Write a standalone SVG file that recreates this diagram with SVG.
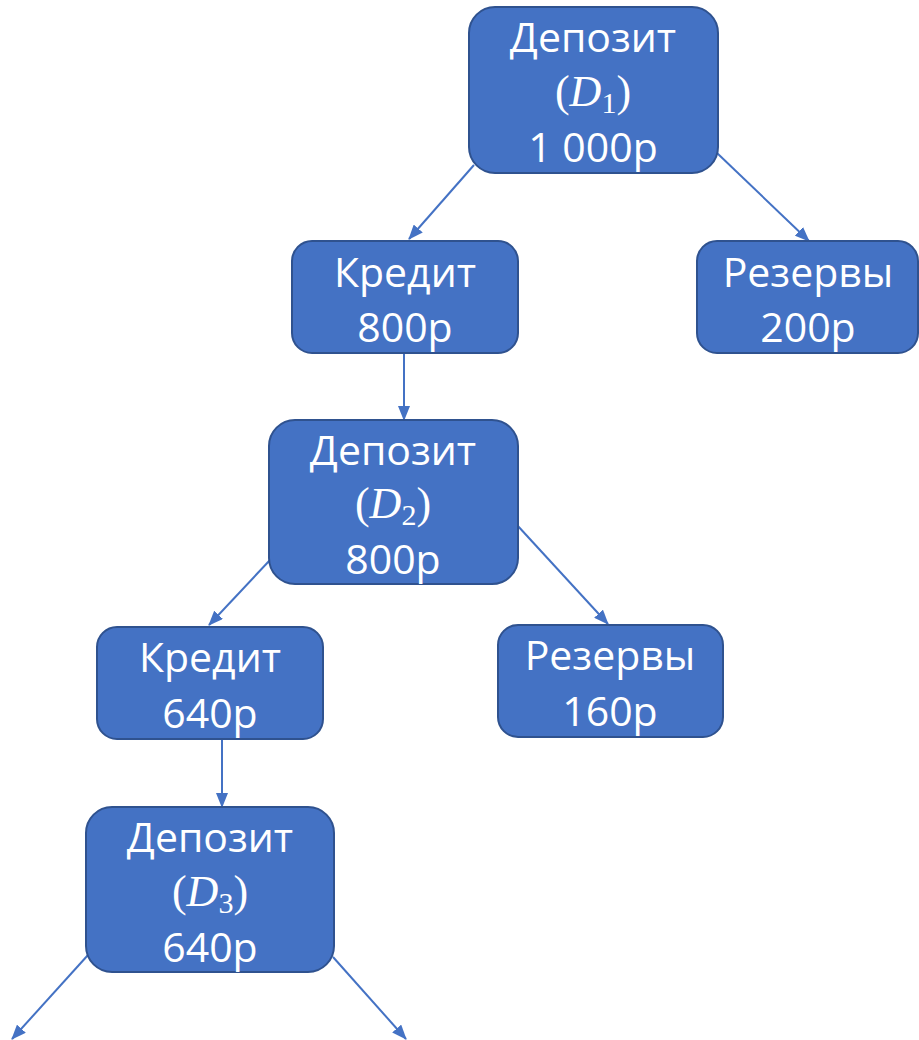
<svg xmlns="http://www.w3.org/2000/svg" width="919" height="1040" viewBox="0 0 919 1040">
<style>
.box{fill:#4472C4;stroke:#2F528F;stroke-width:2}
.t{font-family:"Open Sans","Noto Sans",sans-serif;font-size:41px;fill:#fff;text-anchor:middle}
.m{font-family:"Liberation Serif",serif;font-size:44px;fill:#fff;text-anchor:middle}
.s{font-size:30px}
.c{stroke:#4472C4;stroke-width:2;fill:none;marker-end:url(#ah)}
</style>
<defs>
<marker id="ah" viewBox="0 0 15 12" refX="14" refY="6" markerWidth="15" markerHeight="12" markerUnits="userSpaceOnUse" orient="auto">
<path d="M0,0 L15,6 L0,12 z" fill="#4472C4"/>
</marker>
</defs>
<rect width="919" height="1040" fill="#fff"/>
<g id="connectors">
<line class="c" x1="474" y1="165" x2="409" y2="239"/>
<line class="c" x1="717" y1="153" x2="809" y2="241"/>
<line class="c" x1="404" y1="353" x2="404" y2="420"/>
<line class="c" x1="270" y1="560" x2="209" y2="625"/>
<line class="c" x1="517" y1="525" x2="608" y2="624"/>
<line class="c" x1="222" y1="739" x2="222" y2="807"/>
<line class="c" x1="88" y1="955" x2="12" y2="1039"/>
<line class="c" x1="333" y1="957" x2="406" y2="1039"/>
</g>
<g id="d1">
<rect class="box" x="469" y="7" width="249" height="166" rx="26"/>
<text class="t" x="593" y="52">Депозит</text>
<text class="m" x="593" y="106">(<tspan font-style="italic">D</tspan><tspan class="s" dy="7">1</tspan><tspan dy="-7">)</tspan></text>
<text class="t" x="593" y="162">1 000р</text>
</g>
<g id="credit1">
<rect class="box" x="292" y="241" width="226" height="112" rx="20"/>
<text class="t" x="405" y="287">Кредит</text>
<text class="t" x="405" y="342">800р</text>
</g>
<g id="reserve1">
<rect class="box" x="697" y="241" width="221" height="112" rx="20"/>
<text class="t" x="808" y="287">Резервы</text>
<text class="t" x="808" y="342">200р</text>
</g>
<g id="d2">
<rect class="box" x="269" y="420" width="249" height="164" rx="26"/>
<text class="t" x="393" y="465">Депозит</text>
<text class="m" x="393" y="518">(<tspan font-style="italic">D</tspan><tspan class="s" dy="7">2</tspan><tspan dy="-7">)</tspan></text>
<text class="t" x="393" y="574">800р</text>
</g>
<g id="credit2">
<rect class="box" x="97" y="627" width="226" height="112" rx="20"/>
<text class="t" x="210" y="672">Кредит</text>
<text class="t" x="210" y="728">640р</text>
</g>
<g id="reserve2">
<rect class="box" x="498" y="625" width="225" height="112" rx="20"/>
<text class="t" x="610" y="670">Резервы</text>
<text class="t" x="610" y="726">160р</text>
</g>
<g id="d3">
<rect class="box" x="86" y="807" width="248" height="165" rx="26"/>
<text class="t" x="210" y="852">Депозит</text>
<text class="m" x="210" y="906">(<tspan font-style="italic">D</tspan><tspan class="s" dy="7">3</tspan><tspan dy="-7">)</tspan></text>
<text class="t" x="210" y="962">640р</text>
</g>
</svg>
